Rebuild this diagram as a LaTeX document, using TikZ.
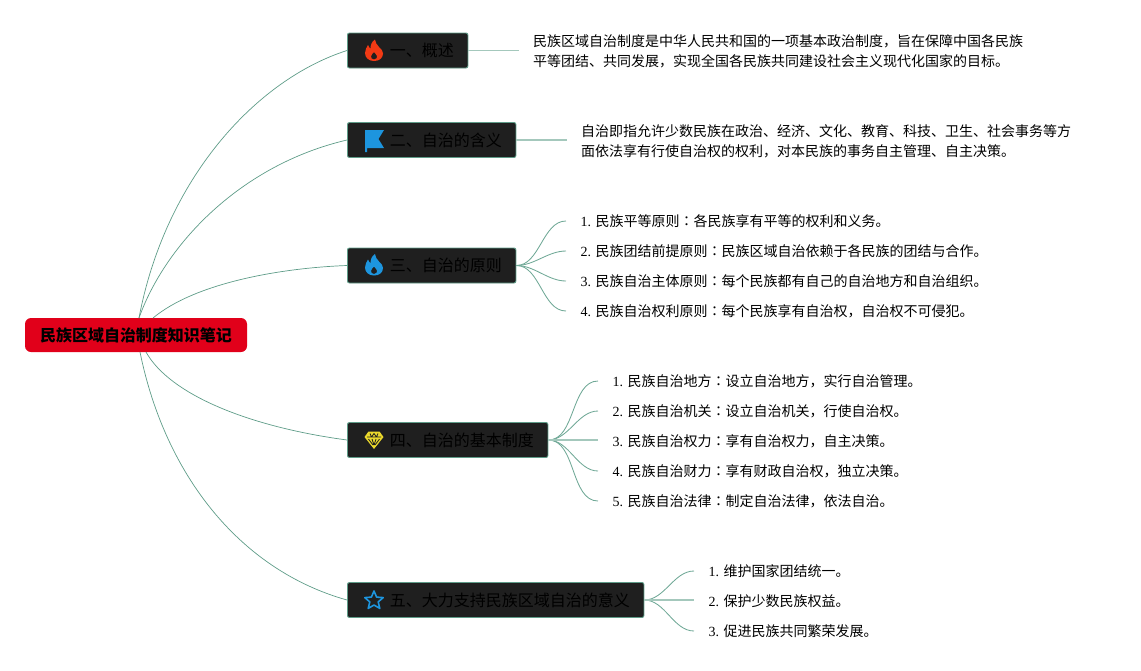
\documentclass[tikz,border=0pt]{standalone}
\usepackage{fontspec}
\setmainfont{Noto Sans CJK SC}
\newfontfamily\ser{Liberation Serif}
\newfontfamily\tcfont{Noto Sans CJK TC}
\newcommand{\cc}{{\tcfont ：}}
\definecolor{edgeC}{HTML}{5E9C88}
\definecolor{fanC}{HTML}{6FA896}
\definecolor{edgeL}{HTML}{A4C8BC}
\definecolor{boxC}{HTML}{1F1F1F}
\definecolor{rootC}{HTML}{E1001A}
\definecolor{fireC}{HTML}{F23A14}
\definecolor{blueC}{HTML}{1D95DE}
\definecolor{gemC}{HTML}{EBD92C}
\tikzset{
 rootbox/.style={draw=none,fill=rootC,rounded corners=6pt,minimum width=222pt,minimum height=34pt,inner sep=0pt,font=\fontsize{16}{20}\selectfont\bfseries,text=black},
 branch/.style={draw=edgeC,line width=0.9pt,fill=boxC,rounded corners=2pt,anchor=west,minimum height=35pt,inner xsep=14pt,inner ysep=0pt,font=\fontsize{16}{20}\selectfont,text=black},
 leaf/.style={anchor=west,inner xsep=14.3pt,inner ysep=2pt,align=left,font=\fontsize{14}{20}\selectfont,text=black},
 main/.style={draw=edgeC,line width=0.7pt},
 stem/.style={draw=edgeL,line width=1.3pt},
 fan/.style={draw=fanC,line width=0.85pt,out=0,in=180,looseness=0.9},
}
\newcommand{\flameicon}[3]{%
 \fill[#3,even odd rule,shift={(#1,#2)}] (0,10.5) .. controls (-5.5,10.5) and (-9,7) .. (-9,2.5)
  .. controls (-9,-1) and (-7,-3.5) .. (-6,-5.5) .. controls (-5,-3.5) and (-4.5,-2.5) .. (-3.5,-2)
  .. controls (-3.5,-6) and (-2,-9) .. (1,-11) .. controls (1,-8) and (3,-6) .. (5,-3.5)
  .. controls (7.5,-1) and (9,0.5) .. (9,3) .. controls (9,7.5) and (5.5,10.5) .. (0,10.5) -- cycle
  (0,9) .. controls (2.5,9) and (3.5,7) .. (3,5.5) .. controls (2.5,4) and (1,3) .. (0,1.5)
  .. controls (-1,3) and (-3,4) .. (-3,6) .. controls (-3,7.5) and (-2,9) .. (0,9) -- cycle;}
\begin{document}
\begin{tikzpicture}[x=1pt,y=-1pt]
\useasboundingbox (0,0) rectangle (1141,670);
\node[rootbox] (root) at (136,335) {\raisebox{-6.5pt}[0pt][0pt]{民族区域自治制度知识笔记}};
\coordinate (ra) at (139,318);
\coordinate (rb) at (153,318);
\coordinate (rc) at (140,352);
\coordinate (rd) at (146,352);
\node[branch] (b1) at (347,50.5) {\hspace{28.5pt}一、概述};
\node[branch] (b2) at (347,140) {\hspace{28.5pt}二、自治的含义};
\node[branch] (b3) at (347,265.5) {\hspace{28.5pt}三、自治的原则};
\node[branch] (b4) at (347,440) {\hspace{28.5pt}四、自治的基本制度};
\node[branch] (b5) at (347,600) {\hspace{28.5pt}五、大力支持民族区域自治的意义};
\draw[main] (ra) .. controls (165,180) and (255,80) .. (b1.west);
\draw[main] (ra) .. controls (165,245) and (240,165) .. (b2.west);
\draw[main] (rb) .. controls (195,283) and (280,268) .. (b3.west);
\draw[main] (rd) .. controls (170,395) and (250,427) .. (b4.west);
\draw[main] (rc) .. controls (165,475) and (240,570) .. (b5.west);
\node[leaf] (t1) at (518.5,51) {民族区域自治制度是中华人民共和国的一项基本政治制度，旨在保障中国各民族\\平等团结、共同发展，实现全国各民族共同建设社会主义现代化国家的目标。};
\node[leaf] (t2) at (566.5,141) {自治即指允许少数民族在政治、经济、文化、教育、科技、卫生、社会事务等方\\面依法享有行使自治权的权利，对本民族的事务自主管理、自主决策。};
\draw[stem] (b1.east) -- (b1.east -| t1.west);
\draw[stem] (b2.east) -- (b2.east -| t2.west);
\node[leaf] (c1) at (566,221) {{\ser 1. }民族平等原则\cc 各民族享有平等的权利和义务。};
\node[leaf] (c2) at (566,251) {{\ser 2. }民族团结前提原则\cc 民族区域自治依赖于各民族的团结与合作。};
\node[leaf] (c3) at (566,281) {{\ser 3. }民族自治主体原则\cc 每个民族都有自己的自治地方和自治组织。};
\node[leaf] (c4) at (566,311) {{\ser 4. }民族自治权利原则\cc 每个民族享有自治权，自治权不可侵犯。};
\foreach \n in {c1,c2,c3,c4} \draw[fan] (b3.east) to (\n.west);
\node[leaf] (d1) at (598,381) {{\ser 1. }民族自治地方\cc 设立自治地方，实行自治管理。};
\node[leaf] (d2) at (598,411) {{\ser 2. }民族自治机关\cc 设立自治机关，行使自治权。};
\node[leaf] (d3) at (598,441) {{\ser 3. }民族自治权力\cc 享有自治权力，自主决策。};
\node[leaf] (d4) at (598,471) {{\ser 4. }民族自治财力\cc 享有财政自治权，独立决策。};
\node[leaf] (d5) at (598,501) {{\ser 5. }民族自治法律\cc 制定自治法律，依法自治。};
\foreach \n in {d1,d2,d4,d5} \draw[fan] (b4.east) to (\n.west);
\draw[stem] (b4.east) -- (b4.east -| d3.west);
\node[leaf] (e1) at (694,571) {{\ser 1. }维护国家团结统一。};
\node[leaf] (e2) at (694,601) {{\ser 2. }保护少数民族权益。};
\node[leaf] (e3) at (694,631) {{\ser 3. }促进民族共同繁荣发展。};
\draw[fan] (b5.east) to (e1.west);
\draw[fan] (b5.east) to (e3.west);
\draw[stem] (b5.east) -- (b5.east -| e2.west);
% icons
\flameicon{374}{50.5}{fireC}
\flameicon{374}{265}{blueC}
\fill[blueC] (365,130) -- (384,130) -- (378.5,139) -- (384,148) -- (367,148) -- (367,152) -- (365,152) -- cycle;
\begin{scope}[shift={(374,440)}]
\fill[gemC] (-5.5,-8.5) -- (5.5,-8.5) -- (9.5,-3) -- (0,9) -- (-9.5,-3) -- cycle;
\draw[boxC,line width=0.8pt,line join=round] (-7,-3) -- (7,-3) (-4,-6.5) -- (-2.5,-3) -- (0,-6.5) -- (2.5,-3) -- (4,-6.5) (-5.5,-1) -- (-1,5) (5.5,-1) -- (1,5) (-2,-1) -- (0,5) -- (2,-1);
\end{scope}
\draw[blueC,line width=1.6pt,line join=round,shift={(374,600.5)}] (0,-9.5) -- (2.6,-3.4) -- (9.2,-2.9) -- (4.2,1.4) -- (5.8,7.9) -- (0,4.5) -- (-5.8,7.9) -- (-4.2,1.4) -- (-9.2,-2.9) -- (-2.6,-3.4) -- cycle;
\end{tikzpicture}
\end{document}
